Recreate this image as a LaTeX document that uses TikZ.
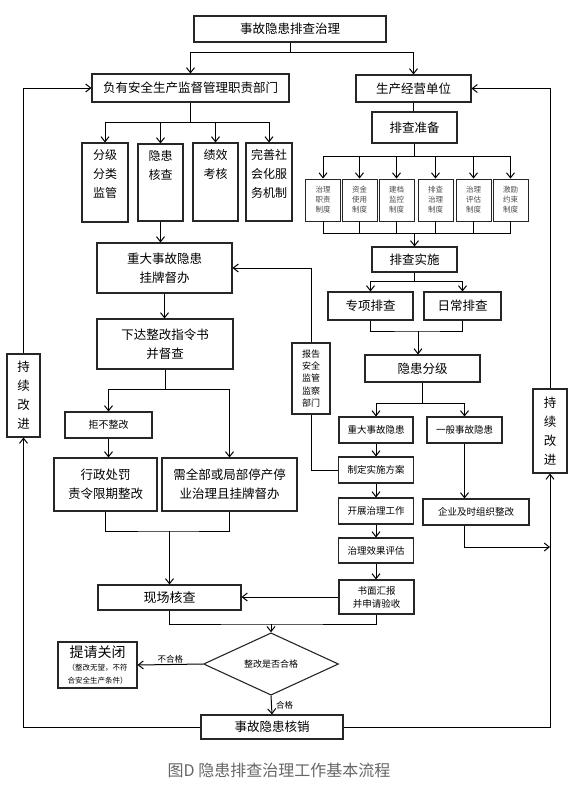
\documentclass[tikz,border=0pt]{standalone}
\usepackage{fontspec}
\setmainfont{Noto Sans CJK SC}
\usepackage{tikz}
\usetikzlibrary{positioning, arrows.meta, shapes.geometric}
\tikzset{
	dims/.style 2 args={
		minimum width=#1pt,
		minimum height=#2pt,
	},
	stage/.append style={
		draw=black!85,
		line width=1.1pt,
		align=center,
		inner sep=0pt,
		font=\fontsize{12.5}{19}\selectfont
	},
	minor/.append style={
		stage,
		font=\fontsize{9.5}{13}\selectfont
	},
	rulebox/.append style={
		draw=black!85,
		line width=0.9pt,
		align=center,
		inner sep=0pt,
		minimum width=35pt,
		minimum height=42pt,
		text=black!70,
		font=\fontsize{7.5}{10}\selectfont
	},
	tallbox/.append style={
		draw=black!85,
		line width=1.1pt,
	},
	talltext/.append style={
		align=center,
		inner sep=0pt,
		font=\fontsize{12}{19}\selectfont
	},
	decide/.append style={
		diamond,
		draw=black!85,
		line width=1.1pt,
		inner sep=0pt,
		minimum width=135pt,
		minimum height=46pt,
		font=\fontsize{9}{11}\selectfont
	},
	labe/.append style={
		inner sep=1pt,
		font=\fontsize{8.5}{10}\selectfont
	},
	flow/.append style={
		-{Straight Barb[length=5pt,width=8pt]},
		line width=1pt
	}
}

\begin{document}
\begin{tikzpicture}[x=1pt, y=-1pt]
\useasboundingbox (0,0) rectangle (577,785);

% top level
\node[stage, dims={192}{26}] (root) at (290,29) {事故隐患排查治理};
\node[stage, dims={197}{28}] (dept) at (190.5,88) {负有安全生产监督管理职责部门};
\node[stage, dims={115}{27}] (unit) at (413.5,88.5) {生产经营单位};
\draw[line width=1pt] (root.south) -- ++(0,10) coordinate (rj);
\draw[flow] (rj) -| (dept.north);
\draw[flow] (rj) -| (unit.north);

% supervision department
\node[tallbox, dims={46}{79}] (grade) at (105,182.5) {};
\node[tallbox, dims={45}{77}] (check) at (160.5,182.5) {};
\node[tallbox, dims={45}{78}] (perf) at (215.5,182) {};
\node[tallbox, dims={46}{78}] (serv) at (269,182) {};
\node[talltext, below=7pt of grade.north] {分级\\分类\\监管};
\node[talltext, below=7pt of check.north] {隐患\\核查};
\node[talltext, below=7pt of perf.north] {绩效\\考核};
\node[talltext, below=7pt of serv.north] {完善社\\会化服\\务机制};
\draw[line width=1pt] (dept.south) -- ++(0,20) coordinate (dj);
\foreach \n in {grade,check,perf,serv}
	\draw[flow] (dj) -| (\n.north);

\node[stage, dims={135}{50}] (board) at (164.5,268) {重大事故隐患\\挂牌督办};
\node[stage, dims={136}{50}] (order) at (165,344) {下达整改指令书\\并督查};
\draw[flow] (check.south) -- (check.south |- board.north);
\draw[flow] (board.south) -- (board.south |- order.north);

\node[minor, dims={87}{26}, font=\fontsize{10}{12}\selectfont] (refuse) at (108.5,425) {拒不整改};
\node[stage, dims={103}{53}] (punish) at (105.5,484.5) {行政处罚\\责令限期整改};
\node[stage, dims={135}{53}] (halt) at (229.5,484.5) {需全部或局部停产停\\业治理且挂牌督办};
\draw[line width=1pt] (order.south) -- ++(0,20) coordinate (oj);
\draw[flow] (oj) -| (refuse.north);
\draw[flow] (oj) -| (halt.north);
\draw[flow] (refuse.south) -- (refuse.south |- punish.north);

\node[stage, dims={143}{25}, font=\fontsize{13}{15}\selectfont] (site) at (169.5,597.5) {现场核查};
\coordinate (pj) at (169.5,531);
\draw[line width=1pt] (punish.south) |- (pj) -| (halt.south);
\draw[flow] (pj) -- (site.north);

% production unit
\node[stage, dims={85}{31}] (prep) at (414.5,127.5) {排查准备};
\draw[line width=1pt] (unit.south) -- (unit.south |- prep.north);
\foreach \i/\x/\a/\b in {1/323/治理/职责, 2/359.5/资金/使用, 3/396.5/建档/监控, 4/435.5/排查/治理, 5/473.5/治理/评估, 6/510.5/激励/约束}
	\node[rulebox] (r\i) at (\x,200) {\a\\\b\\制度};
\draw[line width=1pt] (prep.south) -- ++(0,13) coordinate (qj);
\foreach \i in {1,...,6}
	\draw[flow] (qj) -| (r\i.north);
\coordinate (bj) at (414.5,233);
\foreach \i in {1,...,6}
	\draw[line width=1pt] (r\i.south) |- (bj);

\node[stage, dims={85}{25}] (impl) at (414.5,259.5) {排查实施};
\draw[flow] (bj) -- (impl.north);
\node[stage, dims={85}{28}] (special) at (370.5,306) {专项排查};
\node[stage, dims={77}{28}] (daily) at (462.5,306) {日常排查};
\draw[line width=1pt] (impl.south) -- ++(0,9) coordinate (ij);
\draw[flow] (ij) -| (special.north);
\draw[flow] (ij) -| (daily.north);
\coordinate (sj) at (418,331);
\draw[line width=1pt] (special.south) |- (sj) -| (daily.south);
\node[stage, dims={115}{27}] (grading) at (422.5,368.5) {隐患分级};
\draw[flow] (sj) -- (sj |- grading.north);

\node[minor, dims={74}{26}] (major) at (376,430) {重大事故隐患};
\node[minor, dims={75}{26}] (general) at (464.5,430) {一般事故隐患};
\draw[line width=1pt] (grading.south) -- ++(0,21) coordinate (gj);
\draw[flow] (gj) -| (major.north);
\draw[flow] (gj) -| (general.north);

\node[minor, dims={75}{26}] (plan) at (376,470) {制定实施方案};
\node[minor, dims={75}{26}] (work) at (376,511) {开展治理工作};
\node[minor, dims={75}{25}] (effect) at (376,550.5) {治理效果评估};
\node[minor, dims={75}{34}] (reply) at (376.5,597) {书面汇报\\并申请验收};
\draw[flow] (major.south) -- (major.south |- plan.north);
\draw[flow] (plan.south) -- (plan.south |- work.north);
\draw[flow] (work.south) -- (work.south |- effect.north);
\draw[flow] (effect.south) -- (effect.south |- reply.north);

\node[minor, dims={106}{26}] (fix) at (476,512) {企业及时组织整改};
\draw[flow] (general.south) -- (general.south |- fix.north);

% report to the supervision department
\node[minor, dims={38}{71}, font=\fontsize{9}{12.3}\selectfont] (notify) at (311,378.5) {报告\\安全\\监管\\监察\\部门};
\draw[flow] (notify.north) |- (board.east);
\draw[line width=1pt] (notify.south) |- (plan.west);

% continuous improvement
\node[stage, dims={33}{83}] (limp) at (23.5,395.5) {持\\续\\改\\进};
\node[stage, dims={34}{84}] (rimp) at (550,431) {持\\续\\改\\进};
\coordinate (fj) at (550,547);
\draw[flow] (general.south |- fix.south) |- (fj);

% check and close
\draw[flow] (reply.west) -- (reply.west -| site.east);
\coordinate (cj) at (271,624);
\draw[line width=1pt] (site.south) |- (cj) -| (reply.south);
\node[decide] (judge) at (271,664) {整改是否合格};
\draw[flow] (cj) -- (judge.north);
\node[stage, dims={79}{46}, font=\fontsize{7.5}{13}\selectfont] (close) at (97.5,665) {{\fontsize{14}{14}\selectfont 提请关闭}\\（整改无望，不符\\合安全生产条件）};
\node[stage, dims={142}{24}] (cancel) at (272,727) {事故隐患核销};
\draw[flow] (judge.west) -- (close.east) node[labe, midway, above] {不合格};
\draw[flow] (judge.south) -- (cancel.north) node[labe, midway, right, xshift=3pt] {合格};

\draw[flow] (cancel.west) -| (limp.south);
\draw[flow] (cancel.east) -| (rimp.south);
\draw[flow] (limp.north) |- (dept.west);
\draw[flow] (rimp.north) |- (unit.east);

\node[font=\fontsize{16}{18}\selectfont, text=black!60] (caption) at (279,770) {图D\ 隐患排查治理工作基本流程};
\end{tikzpicture}
\end{document}
